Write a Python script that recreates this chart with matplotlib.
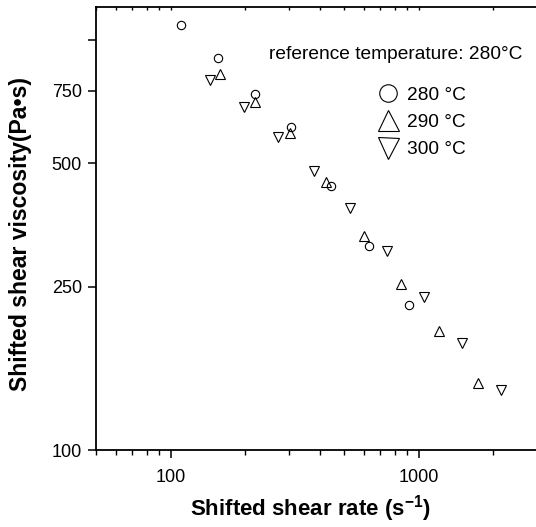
import matplotlib
matplotlib.use("Agg")
from matplotlib import pyplot as plt
from matplotlib.ticker import FixedLocator, NullLocator, LogLocator, NullFormatter

plt.rcParams["font.family"] = ["Liberation Sans", "DejaVu Sans"]
plt.rcParams["mathtext.fontset"] = "custom"
plt.rcParams["mathtext.rm"] = "Liberation Sans"
plt.rcParams["mathtext.bf"] = "Liberation Sans:bold"

# shifted shear rate (1/s) and shifted viscosity (Pa.s) per temperature
rate_280 = [110, 155, 218, 307, 442, 630, 911]
visc_280 = [1084, 900, 737, 613, 439, 314, 226]

rate_290 = [158, 218, 304, 424, 600, 852, 1207, 1734]
visc_290 = [826, 703, 592, 450, 333, 254, 195, 146]

rate_300 = [144, 198, 271, 378, 530, 747, 1050, 1500, 2156]
visc_300 = [799, 685, 579, 477, 389, 305, 236, 182, 140]

y_ticks = [100, 250, 500, 750, 1000]
y_ticklabels = ["100", "250", "500", "750", ""]

fig = plt.figure(figsize=(5.36, 5.27), dpi=100)
ax = fig.add_axes([0.179, 0.1461, 0.8228, 0.8406])

mk = dict(linestyle="none", markerfacecolor="none", markeredgecolor="black",
          markeredgewidth=0.8)
ax.plot(rate_280, visc_280, marker="o", markersize=6, label="280 °C", **mk)
ax.plot(rate_290, visc_290, marker="^", markersize=7.2, label="290 °C", **mk)
ax.plot(rate_300, visc_300, marker="v", markersize=7.2, label="300 °C", **mk)

ax.set_xscale("log")
ax.set_yscale("log")
ax.set_xlim(50, 3000)
ax.set_ylim(100, 1200)

ax.yaxis.set_major_locator(FixedLocator(y_ticks))
ax.yaxis.set_minor_locator(NullLocator())
ax.set_yticklabels(y_ticklabels)

ax.xaxis.set_major_locator(FixedLocator([100, 1000]))
ax.set_xticklabels(["100", "1000"])
ax.xaxis.set_minor_locator(LogLocator(base=10, subs=range(2, 10)))
ax.xaxis.set_minor_formatter(NullFormatter())

ax.tick_params(axis="both", which="major", direction="out", length=6, width=1.1,
               labelsize=13)
ax.tick_params(axis="y", which="major", pad=4)
ax.tick_params(axis="x", which="major", pad=8)
ax.tick_params(axis="x", which="minor", direction="out", length=3.5, width=1.0)

ax.spines["right"].set_visible(False)
for s in ["left", "bottom", "top"]:
    ax.spines[s].set_linewidth(1.3)

# inward ticks along the top edge
top = ax.twiny()
top.set_xscale("log")
top.set_xlim(ax.get_xlim())
top.xaxis.set_major_locator(FixedLocator([100, 1000]))
top.xaxis.set_minor_locator(LogLocator(base=10, subs=range(2, 10)))
top.xaxis.set_major_formatter(NullFormatter())
top.xaxis.set_minor_formatter(NullFormatter())
top.tick_params(axis="x", which="both", direction="in", length=2.5, width=1.0)
for s in top.spines.values():
    s.set_visible(False)

ax.set_xlabel(r"Shifted shear rate (s$^{\mathbf{-1}}$)", fontsize=16, fontweight="bold")
ax.set_ylabel("Shifted shear viscosity(Pa•s)", fontsize=16.6, fontweight="bold")
ax.xaxis.set_label_coords(0.486, -0.098)
ax.yaxis.set_label_coords(-0.145, 0.488)

ax.text(0.968, 0.892, "reference temperature: 280°C", transform=ax.transAxes,
        ha="right", va="center", fontsize=13.8)

ax.legend(loc="upper left", bbox_to_anchor=(0.618, 0.843), frameon=False,
          markerscale=2.1, fontsize=13.8, handlelength=1.0, handletextpad=0.5,
          labelspacing=0.52, borderpad=0)

fig.savefig("out.png", dpi=100)
